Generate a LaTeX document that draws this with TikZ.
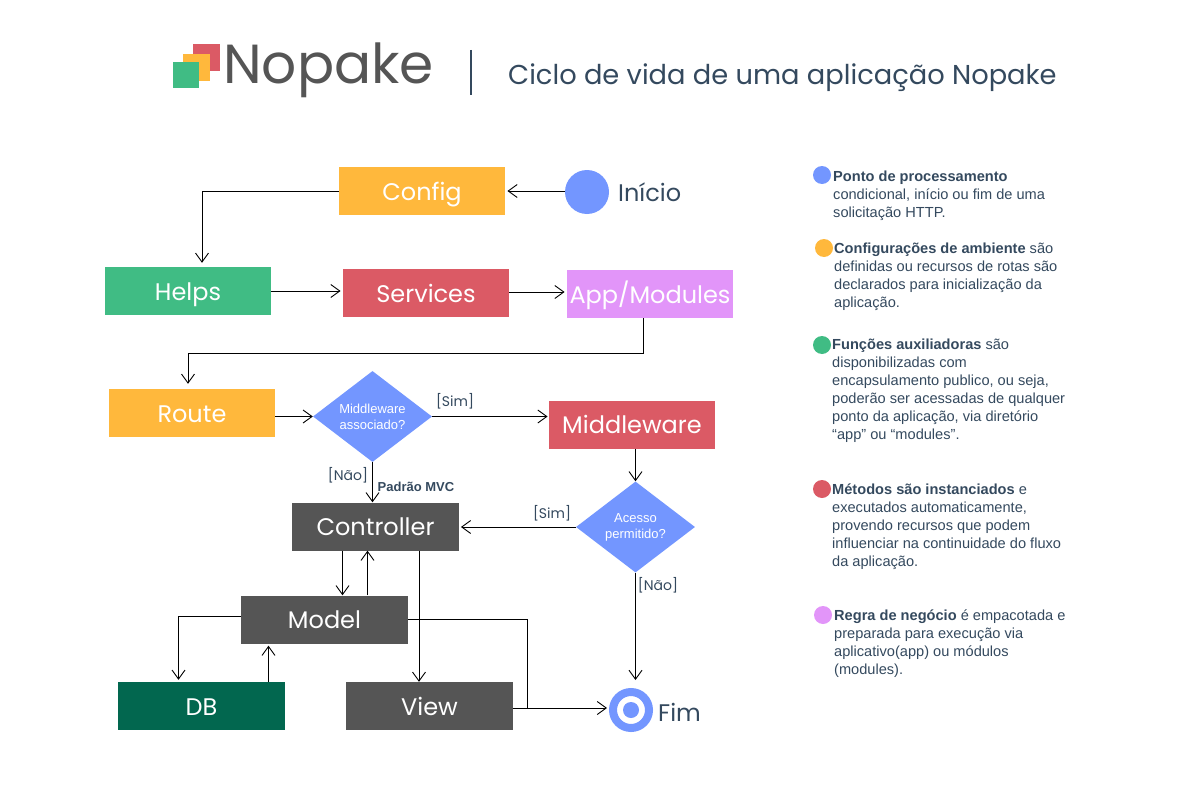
\documentclass[tikz,border=0pt]{standalone}
\usepackage{fontspec}
\setmainfont{Liberation Sans}
\newfontfamily\techfont{Poppins}
\usetikzlibrary{arrows.meta, positioning, shapes.geometric}
\definecolor{npBlue}{HTML}{7396FF}
\definecolor{npOrange}{HTML}{FFB83C}
\definecolor{npGreen}{HTML}{40BC84}
\definecolor{npRed}{HTML}{DB5A65}
\definecolor{npPurple}{HTML}{E295F9}
\definecolor{npDark}{HTML}{555555}
\definecolor{npDeep}{HTML}{02674F}
\definecolor{npText}{HTML}{34495E}

\begin{document}
\begin{tikzpicture}[
  x=1pt, y=-1pt,
  box/.style={minimum width=166.5pt, minimum height=48pt, inner sep=0pt, text height=18pt, text depth=0pt, font=\techfont\fontsize{24}{28}\selectfont, text=white},
  cond/.style={diamond, fill=npBlue, minimum width=119pt, minimum height=91pt, inner sep=0pt, aspect=1.3, align=center, text=white, font=\fontsize{13}{16}\selectfont},
  dot/.style={circle, minimum size=18pt, inner sep=0pt},
  tag/.style={text=npText, font=\techfont\fontsize{14}{16}\selectfont, inner sep=0pt},
  big/.style={text=npText, font=\techfont\fontsize{24}{28}\selectfont, inner sep=0pt},
  note/.style={anchor=north west, align=left, inner sep=0pt, text=npText, font=\fontsize{14.6}{18}\selectfont},
  arr/.style={-{Straight Barb[length=9pt, width=13pt]}, line width=.9pt, black},
  plain/.style={line width=.9pt, black}
]
\useasboundingbox (0,0) rectangle (1200,800);

\fill[npRed] (193,44) rectangle (220,71);
\fill[npOrange] (183,54) rectangle (210,81);
\fill[npGreen] (173,62) rectangle (199,88);
\node[inner sep=0pt, anchor=west, text=npDark, font=\techfont\fontsize{55}{60}\selectfont] (logo) at (223,70) {Nopake};
\draw[npText, line width=1.5pt] (471,50) -- (471,95);
\node[inner sep=0pt, anchor=west, text=npText, font=\techfont\fontsize{27.3}{32}\selectfont] (title) at (508,77.5) {Ciclo de vida de uma aplicação Nopake};

\node[box, fill=npOrange] (config) at (422,191) {Config};
\node[circle, fill=npBlue, minimum size=44pt, inner sep=0pt] (start) at (587,192) {};
\node[big, anchor=west] (startlbl) at (618,192) {Início};
\node[box, fill=npGreen] (helps) at (188,291) {Helps};
\node[box, fill=npRed] (services) at (426,293) {Services};
\node[box, fill=npPurple] (app) at (650,294) {App/Modules};
\node[box, fill=npOrange] (route) at (192,413) {Route};
\node[cond] (hasmw) at (372.5,416.5) {Middleware\\associado?};
\node[box, fill=npRed] (middleware) at (632,424.5) {Middleware};
\node[cond] (allowed) at (635.5,527) {Acesso\\permitido?};
\node[box, fill=npDark] (controller) at (375.5,526.5) {Controller};
\node[box, fill=npDark] (model) at (324.5,619.5) {Model};
\node[box, fill=npDeep] (db) at (201.5,706) {DB};
\node[box, fill=npDark] (view) at (429.5,706) {View};
\node[circle, draw=npBlue, line width=8pt, fill=white, minimum size=36pt, inner sep=0pt] (finish) at (631,710) {};
\node[circle, fill=npBlue, minimum size=16pt, inner sep=0pt] (finishdot) at (finish) {};
\node[big, anchor=west] (finishlbl) at (658,712) {Fim};

\draw[arr, shorten >=2pt] ([yshift=1pt]start.west) -- (config.east);
\draw[arr, shorten >=4pt] (config.west) -| ([xshift=14pt]helps.north);
\draw[arr, shorten >=2pt] (helps.east) -- ([yshift=2pt]services.west);
\draw[arr, shorten >=2pt] ([yshift=1pt]services.east) -- ([yshift=2pt]app.west);
\draw[arr, shorten >=5pt] ([xshift=-7pt]app.south) -- ++(0,35) -| ([xshift=-4pt]route.north);
\draw[arr] ([yshift=-3.5pt]route.east) -- (hasmw.west);
\draw[arr, shorten >=1pt] (hasmw.east) -- ([yshift=8pt]middleware.west);
\draw[arr] (hasmw.south) -- ([xshift=-3pt]controller.north);
\draw[arr] ([xshift=3.5pt]middleware.south) -- (allowed.north);
\draw[arr, shorten >=2pt] (allowed.west) -- ([yshift=-.5pt]controller.east);
\draw[arr, shorten >=8pt] (allowed.south) -- (finish.north -| allowed.south);
\draw[arr] ([xshift=-33pt]controller.south) -- ([xshift=18pt]model.north);
\draw[arr] ([xshift=43pt]model.north) -- ([xshift=-8pt]controller.south);
\draw[arr] ([xshift=43.5pt]controller.south) -- ([xshift=-10.5pt]view.north);
\draw[arr, shorten >=2pt] ([yshift=3.5pt]model.west) -| ([xshift=-23pt]db.north);
\draw[arr, shorten >=2pt] ([xshift=67pt]db.north) -- ([xshift=-56pt]model.south);
\coordinate (merge) at (527,708);
\draw[plain] (model.east) -| (merge);
\draw[arr, shorten >=2pt] ([yshift=-2pt]view.east) -- ([yshift=2pt]finish.west);

\node[tag] (simlbl) at (455,401) {[Sim]};
\node[tag] (naolbl) at (348,475) {[Não]};
\node[inner sep=0pt, text=npText, font=\bfseries\fontsize{13}{14}\selectfont] (mvclbl) at (416,487) {Padrão MVC};
\node[tag] (simlblb) at (552,513) {[Sim]};
\node[tag] (naolblb) at (658,585) {[Não]};

\node[dot, fill=npBlue] (dotblue) at (822,175) {};
\node[note] (noteblue) at (833,171) {\textbf{Ponto de processamento}\\condicional, início ou fim de uma\\solicitação HTTP.};
\node[dot, fill=npOrange] (dotorange) at (824,248) {};
\node[note] (noteorange) at (834,243) {\textbf{Configurações de ambiente} são\\definidas ou recursos de rotas são\\declarados para inicialização da\\aplicação.};
\node[dot, fill=npGreen] (dotgreen) at (822,345) {};
\node[note] (notegreen) at (832,339) {\textbf{Funções auxiliadoras} são\\disponibilizadas com\\encapsulamento publico, ou seja,\\poderão ser acessadas de qualquer\\ponto da aplicação, via diretório\\“app” ou “modules”.};
\node[dot, fill=npRed] (dotred) at (822,489) {};
\node[note] (notered) at (832,484) {\textbf{Métodos são instanciados} e\\executados automaticamente,\\provendo recursos que podem\\influenciar na continuidade do fluxo\\da aplicação.};
\node[dot, fill=npPurple] (dotpurple) at (823,615) {};
\node[note] (notepurple) at (834,610) {\textbf{Regra de negócio} é empacotada e\\preparada para execução via\\aplicativo(app) ou módulos\\(modules).};
\end{tikzpicture}
\end{document}
